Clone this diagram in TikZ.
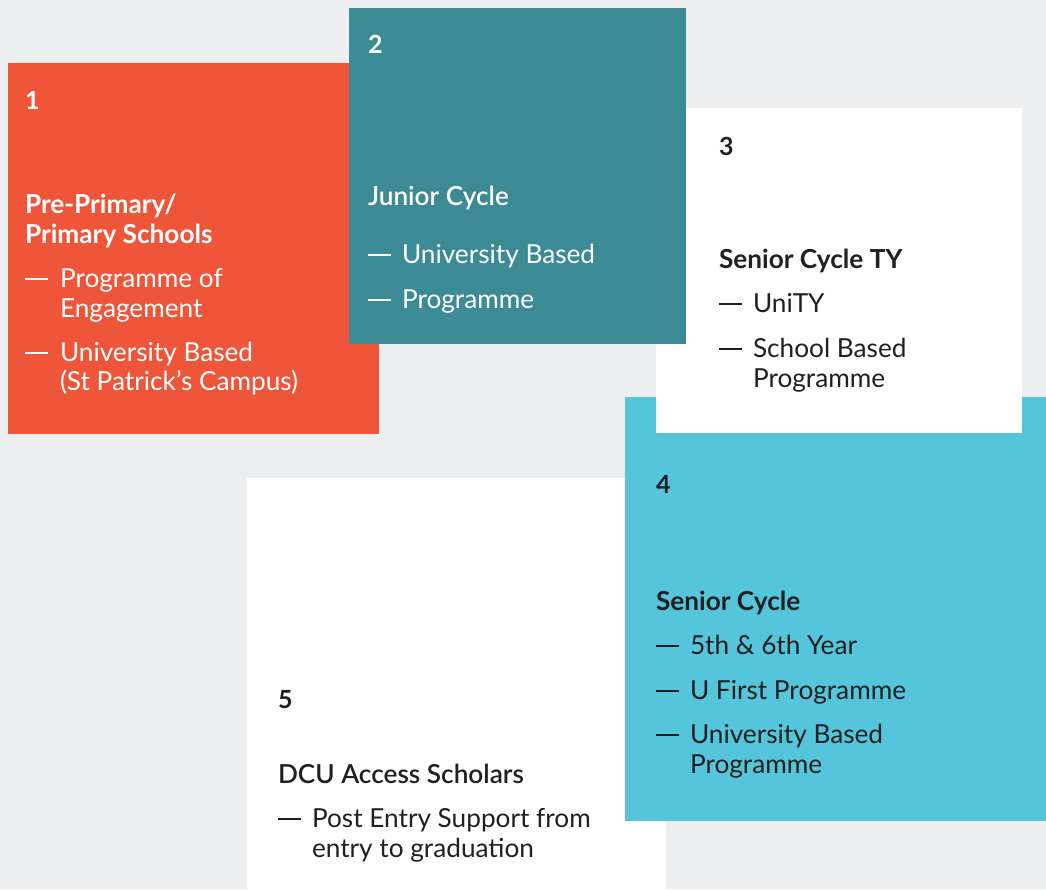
\documentclass[tikz,border=0pt]{standalone}
\usepackage{fontspec}
\setmainfont{Lato}
\newfontfamily\medfont{Lato Semibold}
\definecolor{bgc}{HTML}{EDEEF0}
\definecolor{orangec}{HTML}{EE5539}
\definecolor{tealc}{HTML}{3C8A94}
\definecolor{cyanc}{HTML}{55C5DB}
\definecolor{darkc}{HTML}{231F20}
\tikzset{
  txt/.style={anchor=base west, inner sep=0pt, outer sep=0pt, font=\fontsize{26.2}{30}\selectfont},
  numtxt/.style={txt, font=\fontsize{25}{30}\selectfont\bfseries},
  headtxt/.style={txt, font=\fontsize{26.2}{30}\selectfont\bfseries},
  medtxt/.style={txt, font=\fontsize{26.2}{30}\selectfont\medfont},
  dashtxt/.style={txt}
}
\newcommand\dashmark{\rule[7pt]{23pt}{1.8pt}}
\begin{document}
\begin{tikzpicture}[x=1pt,y=-1pt]
\fill[bgc] (0,0) rectangle (1046,889);
\useasboundingbox (0,0) rectangle (1046,889);
% boxes
\fill[orangec] (8,63) rectangle (379,434);
\fill[white] (247,478) rectangle (666,889);
\fill[cyanc] (625,397) rectangle (1046,821);
\fill[white] (656,108) rectangle (1022,433);
\fill[tealc] (349,8) rectangle (686,344);
% box 1
\begin{scope}[every node/.append style={text=white}]
\node[numtxt] (a0) at (25,109) {1};
\node[headtxt] (a1) at (25,213) {Pre-Primary/};
\node[headtxt] (a2) at (25,243) {Primary Schools};
\node[dashtxt] (a3d) at (25,287) {\dashmark};
\node[txt] (a3) at (60,287) {Programme of};
\node[txt] (a4) at (60,317) {Engagement};
\node[dashtxt] (a5d) at (25,361) {\dashmark};
\node[txt] (a5) at (60,361) {University Based};
\node[txt] (a6) at (60,390) {(St Patrick’s Campus)};
\end{scope}
% box 2
\begin{scope}[every node/.append style={text=white}]
\node[numtxt] (b0) at (368,53) {2};
\node[medtxt] (b1) at (368,205) {Junior Cycle};
\node[dashtxt] (b2d) at (368,263) {\dashmark};
\node[txt] (b2) at (402,263) {University Based};
\node[dashtxt] (b3d) at (368,308) {\dashmark};
\node[txt] (b3) at (402,308) {Programme};
\end{scope}
% box 3
\begin{scope}[every node/.append style={text=darkc}]
\node[numtxt] (c0) at (719,155) {3};
\node[headtxt] (c1) at (719,268) {Senior Cycle TY};
\node[dashtxt] (c2d) at (719,312) {\dashmark};
\node[txt] (c2) at (753,312) {UniTY};
\node[dashtxt] (c3d) at (719,357) {\dashmark};
\node[txt] (c3) at (753,357) {School Based};
\node[txt] (c4) at (753,387) {Programme};
\end{scope}
% box 4
\begin{scope}[every node/.append style={text=darkc}]
\node[numtxt] (d0) at (656,493) {4};
\node[headtxt] (d1) at (656,610) {Senior Cycle};
\node[dashtxt] (d2d) at (656,654) {\dashmark};
\node[txt] (d2) at (690,654) {5th \& 6th Year};
\node[dashtxt] (d3d) at (656,699) {\dashmark};
\node[txt] (d3) at (690,699) {U First Programme};
\node[dashtxt] (d4d) at (656,743) {\dashmark};
\node[txt] (d4) at (690,743) {University Based};
\node[txt] (d5) at (690,773) {Programme};
\end{scope}
% box 5
\begin{scope}[every node/.append style={text=darkc}]
\node[numtxt] (e0) at (278,708) {5};
\node[medtxt] (e1) at (278,783) {DCU Access Scholars};
\node[dashtxt] (e2d) at (278,827) {\dashmark};
\node[txt] (e2) at (312,827) {Post Entry Support from};
\node[txt] (e3) at (312,857) {entry to graduation};
\end{scope}
\end{tikzpicture}
\end{document}
